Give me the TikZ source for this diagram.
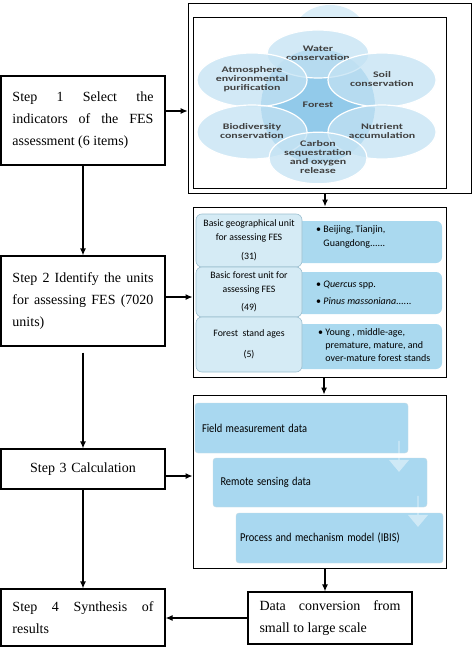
\documentclass[tikz,border=0pt]{standalone}
\usepackage{graphicx}
\usepackage{fontspec}
\setmainfont{Liberation Serif}
\newfontfamily\calfont{Carlito}
\usetikzlibrary{arrows.meta,positioning,shapes.geometric,shapes.arrows}
\tikzset{>={Latex[width=6pt,length=7pt]}}
\hyphenpenalty=10000
\definecolor{petal}{HTML}{C3E2F3}
\definecolor{core}{HTML}{92CAEA}
\definecolor{paleblue}{HTML}{D5EBF5}
\definecolor{rowblue}{HTML}{AAD9EF}
\definecolor{rowline}{HTML}{9CBFD0}
\definecolor{barblue}{HTML}{A9D8F0}
% wide labels of the forest picture, narrow labels of the data bars
\newcommand{\petaltext}[1]{\scalebox{1.4}[1]{\begin{tabular}{@{}c@{}}#1\end{tabular}}}
\newcommand{\bartext}[1]{\scalebox{0.87}[1]{#1}}

\begin{document}
\begin{tikzpicture}[x=1pt, y=-1pt]
  \tikzstyle{every node}=[inner sep=0pt]
  \tikzstyle{stepbox}=[draw=black, line width=1.2pt, minimum width=164pt, text width=141pt, align=justify, font=\fontsize{14}{22}\selectfont]
  \tikzstyle{frame}=[draw=black, line width=0.9pt, minimum width=253pt]
  \tikzstyle{petalnode}=[ellipse, fill=petal, fill opacity=0.75, draw=white, line width=1.2pt, text opacity=1, font=\calfont\bfseries\fontsize{8.5}{9.6}\selectfont\renewcommand{\arraystretch}{0.95}, text=black!75]
  \tikzstyle{unitbox}=[rounded corners=6pt, fill=paleblue, draw=rowline, line width=0.6pt, minimum width=106pt, align=center, font=\calfont\fontsize{9.8}{14}\selectfont]
  \tikzstyle{itembox}=[rounded corners=6pt, fill=rowblue, minimum width=145pt]
  \tikzstyle{itemtext}=[anchor=west, align=left, font=\calfont\fontsize{10}{13.3}\selectfont]
  \tikzstyle{databar}=[rounded corners=3pt, fill=barblue, draw=rowline!60, line width=0.4pt, font=\calfont\fontsize{12}{13}\selectfont, text width=199pt, align=left]
  \tikzstyle{downarrow}=[single arrow, shape border rotate=270, fill=white, fill opacity=0.45, minimum height=31pt, minimum width=20pt, single arrow head extend=3pt, single arrow tip angle=80]
  \useasboundingbox (0,0) rectangle (473,647);

  % left column: the four steps
  \node(step1) at (83,120.5) [stepbox, minimum height=89pt] {Step 1 Select the indicators of the FES assessment (6 items)};
  \node(step2) at (83,301) [stepbox, minimum height=90pt] {Step 2 Identify the units for assessing FES (7020 units)};
  \node(step3) at (83,469) [stepbox, minimum height=40pt, align=center] {Step 3 Calculation};
  \node(step4) at (83,617.5) [stepbox, minimum height=57pt] {Step 4 Synthesis of results};

  % right column: frames
  \node(fes) at (329.5,98) [draw=black, line width=0.6pt, minimum width=283pt, minimum height=190pt] {};
  \begin{scope}
    \clip (295,4) rectangle (365,17);
    \fill[petal!60] (330,32) ellipse (35 and 27);
  \end{scope}
  \node(fesin) at (319.5,102.5) [frame, minimum height=171pt] {};
  \node(units) at (319.5,292) [frame, minimum height=170pt] {};
  \node(calc) at (319.5,481.5) [frame, minimum height=173pt] {};
  \node(conv) at (330,618) [draw=black, line width=1.2pt, minimum width=164pt, minimum height=52pt, text width=141pt, align=justify, font=\fontsize{14}{22}\selectfont] {Data conversion from small to large scale};

  % forest services
  \node(forest) at (318,106) [circle, fill=core, minimum size=114pt] {};
  \node(water) at (318,54) [petalnode, minimum width=102pt, minimum height=48pt] {\petaltext{Water\\conservation}};
  \node(soil) at (382,80) [petalnode, minimum width=108pt, minimum height=54pt] {\petaltext{Soil\\conservation}};
  \node(atmo) at (252,80) [petalnode, minimum width=110pt, minimum height=54pt] {\petaltext{Atmosphere\\environmental\\purification}};
  \node(bio) at (252,132) [petalnode, minimum width=110pt, minimum height=54pt] {\petaltext{Biodiversity\\conservation}};
  \node(nutr) at (382,132) [petalnode, minimum width=108pt, minimum height=54pt] {\petaltext{Nutrient\\accumulation}};
  \node(carb) at (318,158) [petalnode, minimum width=98pt, minimum height=50pt] {\petaltext{Carbon\\sequestration\\and oxygen\\release}};
  \node(flabel) at (318,106) [font=\calfont\bfseries\fontsize{8.5}{9.6}\selectfont, text=black!75] {\petaltext{Forest}};

  % assessment units
  \node(item1) at (369.5,242) [itembox, minimum height=42pt] {};
  \node(item2) at (369.5,293) [itembox, minimum height=42pt] {};
  \node(item3) at (369.5,346.5) [itembox, minimum height=45pt] {};
  \node(unit1) at (249,240.5) [unitbox, minimum height=53pt] {Basic geographical unit\\for assessing FES\\[5pt](31)};
  \node(unit2) at (249,292) [unitbox, minimum height=50pt] {Basic forest unit for\\assessing FES\\[4pt](49)};
  \node(unit3) at (249,344.5) [unitbox, minimum height=55pt] {Forest\ \ stand ages\\[7pt](5)};
  \node(text1) at (316,237) [itemtext] {\textbullet\ Beijing, Tianjin,\\\hphantom{\textbullet\ }Guangdong......};
  \node(text2) at (316,293) [itemtext, font=\calfont\fontsize{10}{17}\selectfont] {\textbullet\ \textit{Quercus} spp.\\\textbullet\ \textit{Pinus massoniana}......};
  \node(text3) at (318,345) [itemtext] {\textbullet\ Young , middle-age,\\\hphantom{\textbullet\ }premature, mature, and\\\hphantom{\textbullet\ }over-mature forest stands};

  % calculation data
  \node(bar1) at (301.5,428) [databar, minimum width=213pt, minimum height=50pt] {\bartext{Field measurement data}};
  \node(bar2) at (320,482.5) [databar, minimum width=214pt, minimum height=49pt] {\bartext{Remote sensing data}};
  \node(bar3) at (339.5,538) [databar, minimum width=207pt, minimum height=50pt] {\bartext{Process and mechanism model (IBIS)}};
  \node(down1) at (399,456) [downarrow] {};
  \node(down2) at (418,511) [downarrow] {};

  % connectors
  \draw [->][draw=black, line width=1.2pt] (step1) to (step2);
  \draw [->][draw=black, line width=1.2pt, shorten <=6pt] (step2) to (step3);
  \draw [->][draw=black, line width=1.2pt] (step3) to (step4);
  \draw [->][draw=black, line width=1.2pt] ([yshift=9.5pt]step1.east) to ([yshift=9.5pt]step1.east -| fes.west);
  \draw [->][draw=black, line width=1.2pt] ([yshift=4pt]step2.east) to ([yshift=4pt]step2.east -| units.west);
  \draw [->][draw=black, line width=1.2pt] ([yshift=-7pt]step3.east) to ([yshift=-7pt]step3.east -| calc.west);
  \draw [->][draw=black, line width=1.2pt] (fes.south -| 325,0) to (units.north -| 325,0);
  \draw [->][draw=black, line width=1.2pt] (units.south -| 324,0) to (calc.north -| 324,0);
  \draw [->][draw=black, line width=1.2pt] (calc.south -| 325,0) to (conv.north -| 325,0);
  \draw [->][draw=black, line width=1.2pt] (conv.west) to (conv.west -| step4.east);
\end{tikzpicture}
\end{document}
